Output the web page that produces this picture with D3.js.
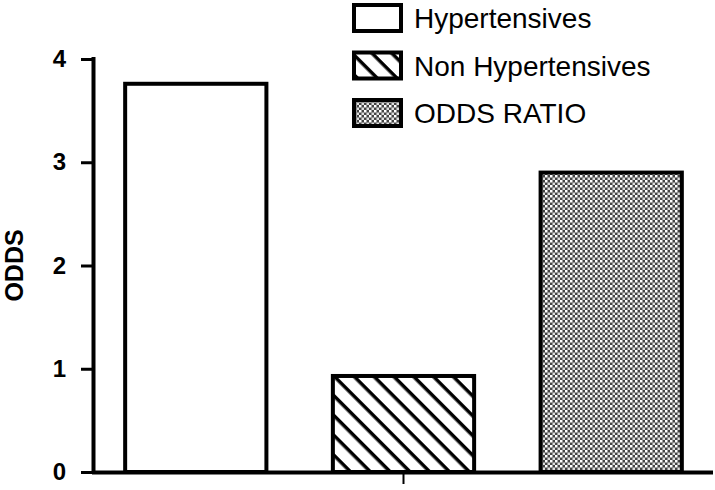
<!DOCTYPE html>
<html>
<head>
<meta charset="UTF-8">
<script src="https://cdn.jsdelivr.net/npm/d3@7"></script>
<style>
  body{margin:0;background:#fff;}
  svg{font-family:"Liberation Sans",Arial,sans-serif;}
</style>
</head>
<body>
<div id="root"></div>
<script>
  let categories = ["Hypertensives", "Non Hypertensives", "ODDS RATIO"]
  let values = [3.76, 0.93, 2.9]
  let yTicks = [0, 1, 2, 3, 4]

  let width = 715, height = 490
  let x0 = 94, x1 = 713, yTop = 59, yBottom = 472

  let svg = d3.select("#root").append("svg").attr("width", width).attr("height", height)
  let defs = svg.append("defs")

  // diagonal stripes, top-left to bottom-right
  let stripe = defs.append("pattern").attr("id", "stripe").attr("patternUnits", "userSpaceOnUse")
    .attr("width", 14).attr("height", 14).attr("patternTransform", "rotate(45)")
  stripe.append("rect").attr("width", 14).attr("height", 14).attr("fill", "#fff")
  stripe.append("line").attr("x1", 0).attr("y1", 0).attr("x2", 14).attr("y2", 0)
    .attr("stroke", "#000").attr("stroke-width", 7)

  // fine checker dots
  let dots = defs.append("pattern").attr("id", "dots").attr("patternUnits", "userSpaceOnUse")
    .attr("width", 5).attr("height", 5)
  dots.append("rect").attr("width", 5).attr("height", 5).attr("fill", "#444")
  dots.append("rect").attr("width", 2.5).attr("height", 2.5).attr("fill", "#fff")
  dots.append("rect").attr("x", 2.5).attr("y", 2.5).attr("width", 2.5).attr("height", 2.5).attr("fill", "#ddd")

  let fills = ["#fff", "url(#stripe)", "url(#dots)"]

  let x = d3.scaleBand().domain(categories).range([x0, x1]).paddingInner(0.32).paddingOuter(0.15)
  let y = d3.scaleLinear().domain([0, 4]).range([yBottom, yTop])

  // bars
  svg.append("g").selectAll("rect").data(categories).enter().append("rect")
    .attr("x", d => x(d))
    .attr("y", (d, i) => y(values[i]))
    .attr("width", x.bandwidth())
    .attr("height", (d, i) => yBottom - y(values[i]))
    .attr("fill", (d, i) => fills[i])
    .attr("stroke", "#000").attr("stroke-width", 4)

  // y axis
  let yAxis = d3.axisLeft(y).tickValues(yTicks).tickFormat(d3.format("d")).tickSize(13).tickPadding(15)
  let yg = svg.append("g").attr("transform", "translate(" + x0 + ",0)").call(yAxis)
  yg.select(".domain").attr("stroke-width", 4).attr("d", "M-0.5," + (yTop - 2) + "V" + yBottom)
  yg.selectAll(".tick line").attr("stroke-width", 3)
  yg.selectAll(".tick text").attr("font-size", 24).attr("font-weight", "bold")
    .attr("font-family", "Liberation Sans, Arial, sans-serif").attr("fill", "#000")

  // x axis: single centre tick
  let xAxis = d3.axisBottom(x).tickValues([categories[1]]).tickFormat("").tickSize(12)
  let xg = svg.append("g").attr("transform", "translate(0," + yBottom + ")").call(xAxis)
  xg.select(".domain").attr("stroke-width", 4).attr("d", "M" + (x0 - 2) + ",0.5H" + x1)
  xg.selectAll(".tick line").attr("stroke-width", 2)

  // y label
  svg.append("text").attr("transform", "translate(23," + ((yTop + yBottom) / 2) + ") rotate(-90)")
    .attr("text-anchor", "middle").attr("font-size", 25).attr("font-weight", "bold").text("ODDS")

  // legend
  let legend = svg.append("g").selectAll("g").data(categories).enter().append("g")
    .attr("transform", (d, i) => "translate(354," + (5 + i * 47.5) + ")")
  legend.append("rect").attr("width", 47).attr("height", 26)
    .attr("fill", (d, i) => fills[i]).attr("stroke", "#000").attr("stroke-width", 4)
  legend.append("text").attr("x", 60).attr("y", 23).attr("font-size", 28).text(d => d)
</script>
</body>
</html>
